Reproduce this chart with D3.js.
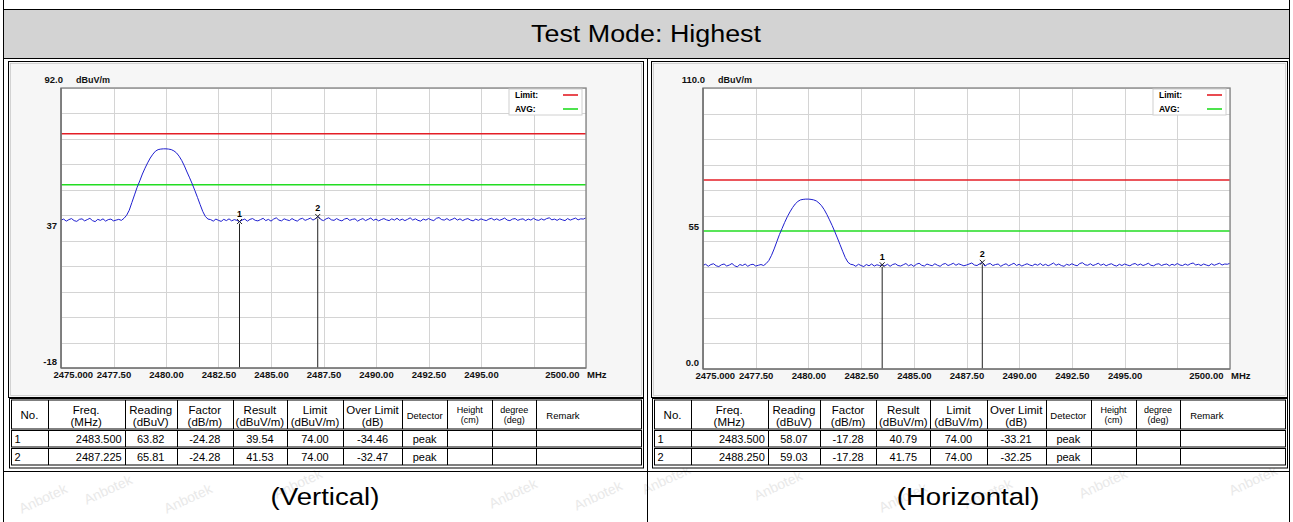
<!DOCTYPE html>
<html><head><meta charset="utf-8">
<script src="https://cdn.jsdelivr.net/npm/d3@7"></script>
<style>
body{margin:0;background:#fff;}
svg{display:block;}
text{font-family:"Liberation Sans",Arial,sans-serif;}
</style>
</head><body>
<svg id="c" width="1293" height="522"></svg>
<script>
// ---------------- DATA ----------------
const title = "Test Mode: Highest";
const captions = ["(Vertical)", "(Horizontal)"];
const freqStart = 2475, freqStep = 0.125, freqEnd = 2500;
const freqTicks = [2475, 2477.5, 2480, 2482.5, 2485, 2487.5, 2490, 2492.5, 2495, 2497.5, 2500];
const freqTickLabels = ["2475.000","2477.50","2480.00","2482.50","2485.00","2487.50","2490.00","2492.50","2495.00","","2500.00"];
const unitX = "MHz", unitY = "dBuV/m";
const limitLevel = 74, avgLevel = 54;
const legendNames = ["Limit:", "AVG:"];

const vYDomain = [-18, 92];
const vYLabelVals = [92, 37, -18];
const vYLabels = ["92.0", "37", "-18"];
const hYDomain = [0, 110];
const hYLabelVals = [110, 55, 0];
const hYLabels = ["110.0", "55", "0.0"];

// Vertical sweep trace (dBuV/m), 2475..2500 MHz every 0.125 MHz
const vTrace = [
40.1,40.5,39.7,40.3,40.7,39.9,39.6,40.4,40.6,39.8,40.3,40.8,39.9,39.5,40.4,40.0,40.6,39.7,40.3,40.5,39.8,40.1,40.4,40.0,
40.8,42.0,44.0,47.0,50.0,53.0,55.5,58.2,60.5,62.6,64.5,66.0,67.2,67.8,68.0,68.1,68.1,68.0,67.8,67.3,66.5,65.2,63.5,61.4,59.0,56.7,54.3,51.7,49.0,46.2,43.5,41.5,40.5,
40.3,39.7,40.5,40.0,39.6,40.4,39.9,40.6,39.8,40.3,40.0,39.5,
40.1,40.5,39.7,40.4,40.7,40.0,39.8,40.3,40.8,39.9,40.4,39.7,
40.5,41.0,40.1,39.8,40.6,40.2,39.9,40.7,40.1,39.7,40.5,40.8,
40.0,40.4,40.9,40.1,40.7,41.5,40.3,39.9,40.6,41.0,40.2,40.0,
40.7,40.1,39.8,40.5,40.8,40.0,40.4,40.6,39.7,40.3,40.7,39.9,
40.4,40.9,40.0,40.5,39.8,40.3,40.7,40.2,39.9,40.6,40.1,40.8,
40.0,40.5,39.9,40.4,41.0,40.1,40.6,40.0,39.7,40.5,40.1,40.7,
40.2,39.9,40.8,41.1,40.3,40.1,40.7,40.0,40.4,40.9,40.1,40.6,
39.9,40.4,40.7,40.1,39.8,40.5,40.0,40.6,40.2,39.9,40.5,40.8,
40.1,40.6,40.0,40.4,40.9,40.1,39.9,40.5,40.7,40.0,40.4,40.6,
39.9,40.5,40.1,40.8,40.2,40.0,40.6,40.1,40.7,41.0,40.2,40.5,
40.0,40.6,40.2,39.9,40.7,40.1,40.5,40.9,40.2,40.6,40.5,41.0
];
// Horizontal sweep trace
const hTrace = [
40.6,41.0,40.2,40.9,41.2,40.4,40.1,40.8,41.1,40.3,40.7,41.3,40.4,40.0,40.9,40.5,41.1,40.2,40.8,41.0,40.3,40.6,40.9,40.5,
41.3,42.5,44.5,47.0,49.8,52.6,55.0,57.4,59.6,61.5,63.2,64.6,65.6,66.2,66.4,66.5,66.5,66.4,66.2,65.8,65.0,63.9,62.4,60.5,58.4,56.2,53.8,51.3,48.7,46.1,43.6,41.8,41.0,
40.8,40.2,41.0,40.5,40.1,40.9,40.4,41.1,40.3,40.8,40.5,40.8,
40.4,41.0,40.2,40.9,41.2,40.5,40.3,40.8,41.3,40.4,40.9,40.2,
41.0,41.4,40.6,40.3,41.1,40.7,40.4,41.2,40.6,40.2,41.0,41.3,
40.5,40.9,41.4,40.6,41.2,40.8,40.4,40.7,41.1,41.5,40.7,40.5,
41.2,41.7,40.3,41.0,41.3,40.5,40.9,41.1,40.2,40.8,41.2,40.4,
40.9,41.4,40.5,41.0,40.3,40.8,41.2,40.7,40.4,41.1,40.6,41.3,
40.5,41.0,40.4,40.9,41.5,40.6,41.1,40.5,40.2,41.0,40.6,41.2,
40.7,40.4,41.3,41.6,40.8,40.6,41.2,40.5,40.9,41.4,40.6,41.1,
40.4,40.9,41.2,40.6,40.3,41.0,40.5,41.1,40.7,40.4,41.0,41.3,
40.6,41.1,40.5,40.9,41.4,40.6,40.4,41.0,41.2,40.5,40.9,41.1,
40.4,41.0,40.6,41.3,40.7,40.5,41.1,40.6,41.2,41.5,40.7,41.0,
40.5,41.1,40.7,40.4,41.2,40.6,41.0,41.4,40.7,41.1,41.0,41.4
];

// Marker tables
const vNo = ["1","2"];
const vFreq = ["2483.500","2487.225"];
const vReading = ["63.82","65.81"];
const vFactor = ["-24.28","-24.28"];
const vResult = ["39.54","41.53"];
const vLimit = ["74.00","74.00"];
const vOver = ["-34.46","-32.47"];
const vDetector = ["peak","peak"];

const hNo = ["1","2"];
const hFreq = ["2483.500","2488.250"];
const hReading = ["58.07","59.03"];
const hFactor = ["-17.28","-17.28"];
const hResult = ["40.79","41.75"];
const hLimit = ["74.00","74.00"];
const hOver = ["-33.21","-32.25"];
const hDetector = ["peak","peak"];

const tableHeaders = [["No."],["Freq.","(MHz)"],["Reading","(dBuV)"],["Factor","(dB/m)"],["Result","(dBuV/m)"],["Limit","(dBuV/m)"],["Over Limit","(dB)"],["Detector"],["Height","(cm)"],["degree","(deg)"],["Remark"]];

const watermark = "Anbotek";

// ---------------- DRAW ----------------
const svg = d3.select("#c");
const W = 1293, H = 522;
svg.append("rect").attr("width",W).attr("height",H).attr("fill","#fff");

// watermarks (faint)
const wmPos = [[110,494],[190,503],[300,488],[515,498],[668,484],[780,490],[905,502],[1105,488],[1255,485],[45,503],[600,500],[990,498]];
svg.append("g").selectAll("text").data(wmPos).join("text")
  .attr("transform",d=>`translate(${d[0]},${d[1]}) rotate(-25)`)
  .attr("text-anchor","middle").attr("font-size",14).attr("fill","#e9e9e9")
  .text(watermark);

// page structure
const frame = svg.append("g").attr("fill","none").attr("stroke","#000").attr("stroke-width",1);
frame.append("line").attr("x1",3.5).attr("x2",3.5).attr("y1",0).attr("y2",H);
frame.append("line").attr("x1",1289.5).attr("x2",1289.5).attr("y1",0).attr("y2",H);
frame.append("line").attr("x1",3.5).attr("x2",1289.5).attr("y1",9.5).attr("y2",9.5);
svg.append("rect").attr("x",4).attr("y",10).attr("width",1285).attr("height",48).attr("fill","#d3d3d3");
frame.append("line").attr("x1",3.5).attr("x2",1289.5).attr("y1",58.5).attr("y2",58.5);
frame.append("line").attr("x1",647.5).attr("x2",647.5).attr("y1",58.5).attr("y2",H);
frame.append("line").attr("x1",3.5).attr("x2",1289.5).attr("y1",471.5).attr("y2",471.5);

svg.append("text").attr("transform","translate(646,42) scale(1.12,1)")
  .attr("text-anchor","middle").attr("font-size",24).attr("fill","#000").text(title);

const panels = [
  {fx0:8.5, fx1:643.5, trace:vTrace, yDomain:vYDomain, yVals:vYLabelVals, yLabels:vYLabels,
   px0:61, px1:586, py0:88, py1:368,
   no:vNo, freq:vFreq, reading:vReading, factor:vFactor, result:vResult, limit:vLimit, over:vOver, det:vDetector,
   cap:captions[0], capX:325},
  {fx0:651.5, fx1:1287.5, trace:hTrace, yDomain:hYDomain, yVals:hYLabelVals, yLabels:hYLabels,
   px0:703, px1:1230, py0:88, py1:369,
   no:hNo, freq:hFreq, reading:hReading, factor:hFactor, result:hResult, limit:hLimit, over:hOver, det:hDetector,
   cap:captions[1], capX:968}
];

const colFrac = [12,48,125,177,233,287,343,402,447,492,536,641].map(v=>(v-12)/629);

panels.forEach(p=>{
  const g = svg.append("g");
  g.append("rect").attr("x",p.fx0).attr("y",61.5).attr("width",p.fx1-p.fx0).attr("height",336)
    .attr("fill","#f6f6f6").attr("stroke","#000");
  g.append("rect").attr("x",p.fx0+2).attr("y",63.5).attr("width",p.fx1-p.fx0-4).attr("height",332)
    .attr("fill","none").attr("stroke","#bbb").attr("stroke-width",0.6);

  const x = d3.scaleLinear().domain([freqStart, freqEnd]).range([p.px0, p.px1]);
  const y = d3.scaleLinear().domain(p.yDomain).range([p.py1, p.py0]);

  g.append("rect").attr("x",p.px0).attr("y",p.py0).attr("width",p.px1-p.px0).attr("height",p.py1-p.py0).attr("fill","#fff");

  const yGrid = d3.range(p.yDomain[0], p.yDomain[1]+0.001, 10);
  g.append("g").selectAll("line").data(yGrid).join("line")
    .attr("x1",p.px0).attr("x2",p.px1).attr("y1",d=>Math.round(y(d))+0.5).attr("y2",d=>Math.round(y(d))+0.5)
    .attr("stroke","#d4d4d4").attr("stroke-width",1);
  g.append("g").selectAll("line").data(freqTicks).join("line")
    .attr("x1",d=>Math.round(x(d))+0.5).attr("x2",d=>Math.round(x(d))+0.5).attr("y1",p.py0).attr("y2",p.py1)
    .attr("stroke","#d4d4d4").attr("stroke-width",1);

  g.append("line").attr("x1",p.px0).attr("x2",p.px1).attr("y1",y(limitLevel)).attr("y2",y(limitLevel))
    .attr("stroke","#e41e26").attr("stroke-width",1.6);
  g.append("line").attr("x1",p.px0).attr("x2",p.px1).attr("y1",y(avgLevel)).attr("y2",y(avgLevel))
    .attr("stroke","#22dd22").attr("stroke-width",1.6);

  const line = d3.line().x((d,i)=>x(freqStart+i*freqStep)).y(d=>y(d));
  g.append("path").datum(p.trace).attr("d",line).attr("fill","none").attr("stroke","#1f1fd0").attr("stroke-width",1);

  p.freq.forEach((f,i)=>{
    const mx = x(+f), my = y(+p.result[i]);
    g.append("line").attr("x1",mx).attr("x2",mx).attr("y1",my+2).attr("y2",p.py1).attr("stroke","#222").attr("stroke-width",1);
    g.append("path").attr("d",`M${mx-2.5},${my-2.5}L${mx+2.5},${my+2.5}M${mx-2.5},${my+2.5}L${mx+2.5},${my-2.5}`)
      .attr("stroke","#222").attr("stroke-width",1);
    g.append("text").attr("x",mx).attr("y",my-5).attr("text-anchor","middle")
      .attr("font-size",9).attr("font-weight","bold").text(p.no[i]);
  });

  g.append("rect").attr("x",p.px0).attr("y",p.py0).attr("width",p.px1-p.px0).attr("height",p.py1-p.py0)
    .attr("fill","none").attr("stroke","#8a8a8a").attr("stroke-width",1.4);
  g.append("line").attr("x1",p.px0).attr("x2",p.px0).attr("y1",p.py0).attr("y2",p.py1).attr("stroke","#666").attr("stroke-width",1.2);
  g.append("line").attr("x1",p.px0).attr("x2",p.px1).attr("y1",p.py1).attr("y2",p.py1).attr("stroke","#666").attr("stroke-width",1.2);

  const xa = g.append("g").attr("transform",`translate(0,${p.py1})`)
    .call(d3.axisBottom(x).tickValues(freqTicks).tickFormat((d,i)=>freqTickLabels[i]).tickSize(0).tickPadding(3));
  xa.select(".domain").remove();
  xa.selectAll("text").attr("font-size",9.5).attr("font-weight","bold").attr("fill","#111")
    .attr("font-family","'Liberation Sans',Arial,sans-serif");
  xa.selectAll(".tick").filter((d,i)=>i===0).select("text").attr("text-anchor","start").attr("x",-8);
  xa.selectAll(".tick").filter((d,i)=>i===freqTicks.length-1).select("text").attr("text-anchor","end").attr("x",-7);
  g.append("text").attr("x",p.px1+1).attr("y",p.py1+10).attr("font-size",9.5).attr("font-weight","bold").attr("fill","#111").text(unitX);

  const ya = g.append("g").attr("transform",`translate(${p.px0},0)`)
    .call(d3.axisLeft(y).tickValues(p.yVals).tickFormat((d,i)=>p.yLabels[i]).tickSize(0).tickPadding(4));
  ya.select(".domain").remove();
  ya.selectAll("text").attr("font-size",9.5).attr("font-weight","bold").attr("fill","#111")
    .attr("font-family","'Liberation Sans',Arial,sans-serif").attr("dy","0.1em");
  ya.selectAll(".tick").filter((d,i)=>i===0).select("text").attr("x",2).attr("dy","-0.55em");
  ya.selectAll(".tick").filter((d,i)=>i===p.yVals.length-1).select("text").attr("dy","-0.35em");
  g.append("text").attr("x",p.px0+15).attr("y",p.py0-5).attr("font-size",9).attr("font-weight","bold").attr("fill","#111").text(unitY);

  const lg = g.append("g");
  lg.append("rect").attr("x",p.px1-77).attr("y",p.py0+1).attr("width",73).attr("height",26)
    .attr("fill","#fff").attr("stroke","#d0d0d0");
  [["#e41e26",0],["#22dd22",1]].forEach(([c,k])=>{
    lg.append("text").attr("x",p.px1-71).attr("y",p.py0+10+k*14).attr("font-size",8.5).attr("font-weight","bold").text(legendNames[k]);
    lg.append("line").attr("x1",p.px1-23).attr("x2",p.px1-8).attr("y1",p.py0+7+k*14).attr("y2",p.py0+7+k*14)
      .attr("stroke",c).attr("stroke-width",1.6);
  });

  const tx0 = p.fx0+3, tx1 = p.fx1-2;
  const cb = colFrac.map(f=>tx0+f*(tx1-tx0));
  const rows = [[400,430],[430.5,448],[448.5,466]];
  const tg = g.append("g");
  tg.append("rect").attr("x",tx0-2).attr("y",398.5).attr("width",tx1-tx0+4).attr("height",69.5).attr("fill","#fff").attr("stroke","#000");
  rows.forEach(r=>{
    tg.append("rect").attr("x",tx0).attr("y",r[0]).attr("width",tx1-tx0).attr("height",r[1]-r[0]-1)
      .attr("fill","none").attr("stroke","#000");
    cb.slice(1,-1).forEach(cx=>{
      tg.append("line").attr("x1",Math.round(cx)+0.5).attr("x2",Math.round(cx)+0.5).attr("y1",r[0]).attr("y2",r[1]-1).attr("stroke","#000");
    });
  });
  tableHeaders.forEach((h,c)=>{
    const cx = (cb[c]+cb[c+1])/2;
    let fs = 11.5;
    if (c===7 || c===10) fs = 9.5;
    if (c===8 || c===9) fs = 9;
    const t = tg.append("text").attr("font-size",fs).attr("fill","#000");
    if (c===10) { t.attr("x",cb[c]+10).attr("text-anchor","start"); }
    else t.attr("x",cx).attr("text-anchor","middle");
    if (h.length===1) t.attr("y",419).text(h[0]);
    else {
      const y1 = (c>=8)?413:413.5, y2 = (c>=8)?423:426;
      h.forEach((s,k)=>t.append("tspan").attr("x",(c===10)?cb[c]+10:cx).attr("y",k?y2:y1).text(s));
    }
  });
  const cols = [p.no,p.freq,p.reading,p.factor,p.result,p.limit,p.over,p.det];
  [0,1].forEach(ri=>{
    const by = ri ? 461 : 443;
    cols.forEach((arr,c)=>{
      const t = tg.append("text").attr("y",by).attr("font-size",11).attr("fill","#000").text(arr[ri]);
      if (c===0) t.attr("x",cb[0]+3);
      else if (c===1) t.attr("x",cb[2]-3).attr("text-anchor","end");
      else t.attr("x",(cb[c]+cb[c+1])/2).attr("text-anchor","middle");
    });
  });

  svg.append("text").attr("transform",`translate(${p.capX},505) scale(1.15,1)`)
    .attr("text-anchor","middle").attr("font-size",24).attr("fill","#000").text(p.cap);
});
</script>
</body></html>
